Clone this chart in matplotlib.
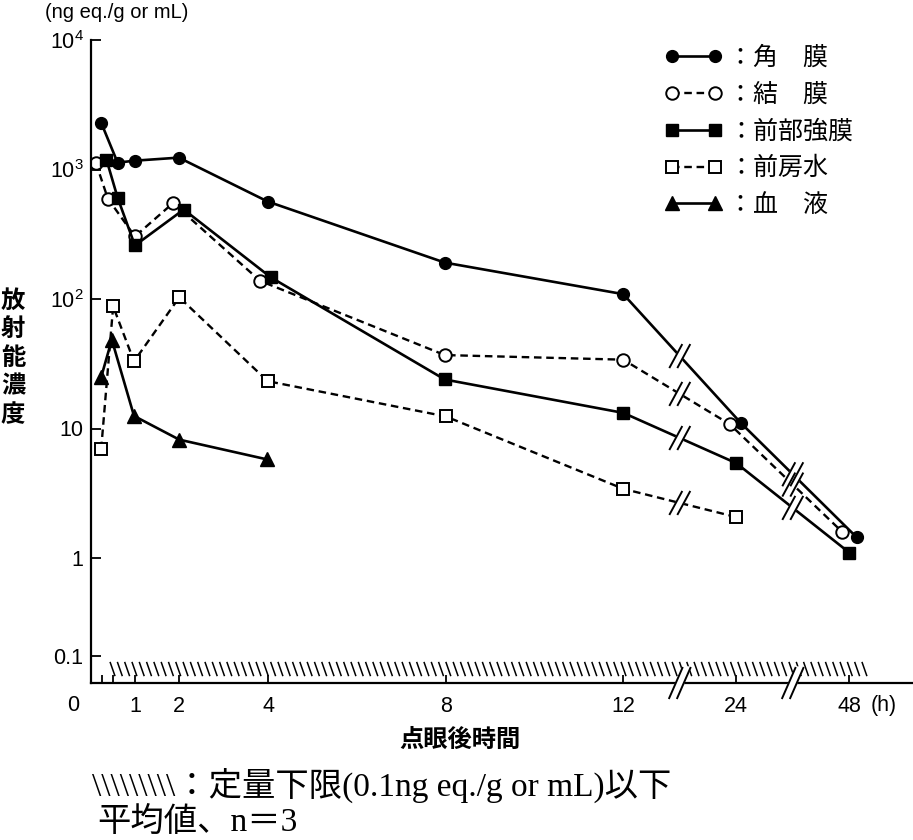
import numpy as np
import matplotlib
matplotlib.use("Agg")
import matplotlib.pyplot as plt
from matplotlib.collections import LineCollection

plt.rcParams["font.family"] = ["Liberation Sans", "Noto Sans CJK JP"]
plt.rcParams["mathtext.fontset"] = "custom"
plt.rcParams["mathtext.rm"] = "Liberation Sans"

# values: time (h), concentration (ng eq./g or mL)
t_cornea = [0.24, 0.61, 1.0, 1.99, 3.99, 7.98, 12.0, 25.0, 49.6]
c_cornea = [2300, 1130, 1170, 1235, 566, 191, 109, 11.0, 1.44]
t_conj = [0.12, 0.39, 1.0, 1.86, 3.82, 7.98, 12.0, 23.3, 46.5]
c_conj = [1130, 597, 304, 551, 138, 36.9, 34.0, 10.8, 1.59]
t_sclera = [0.36, 0.61, 1.0, 2.1, 4.06, 7.98, 12.0, 24.0, 48.0]
c_sclera = [1192, 607, 259, 491, 147, 23.9, 13.2, 5.4, 1.10]
t_aqueous = [0.24, 0.51, 0.98, 2.0, 3.99, 8.0, 12.0, 24.0]
c_aqueous = [6.92, 87.7, 33.0, 103, 23.2, 12.4, 3.42, 2.07]
t_blood = [0.24, 0.48, 0.98, 2.0, 3.98]
c_blood = [24.9, 48.5, 12.5, 8.2, 5.77]

labels = ["：角　膜", "：結　膜", "：前部強膜", "：前房水", "：血　液"]
xticks = [0.25, 0.5, 1, 2, 4, 8, 12, 24, 48]
xticklabels = ["", "", "1", "2", "4", "8", "12", "24", "48"]
yticks = [1e4, 1e3, 100, 10, 1, 0.1]
yticklabels = [r"$\mathregular{10^{4}}$", r"$\mathregular{10^{3}}$",
               r"$\mathregular{10^{2}}$", "10", "1", "0.1"]
breaks = [18, 36]          # axis breaks between 12-24 and 24-48
loq_t = [0.44, 53.0]       # extent of the "below LOQ" hatch
loq_c = [0.063, 0.088]

# broken time axis: 0-12 linear, then 12->24 and 24->48 squeezed
A = 113 / 44.4


def x_fwd(t):
    t = np.asarray(t, float)
    return np.where(t <= 12, t,
                    np.where(t <= 24, 12 + (t - 12) * A / 12,
                             12 + A + (t - 24) * A / 24))


def x_inv(p):
    p = np.asarray(p, float)
    return np.where(p <= 12, p,
                    np.where(p <= 12 + A, 12 + (p - 12) * 12 / A,
                             24 + (p - 12 - A) * 24 / A))


# log axis, compressed below 1
K = 0.76


def y_fwd(v):
    lv = np.log10(np.maximum(np.asarray(v, float), 1e-12))
    return np.where(lv >= 0, lv, K * lv)


def y_inv(p):
    p = np.asarray(p, float)
    return np.where(p >= 0, 10.0 ** p, 10.0 ** (p / K))


fig = plt.figure(figsize=(9.13, 8.4), dpi=100)
ax = fig.add_axes([90.5 / 913, 1 - 683 / 840, 1 - 90.5 / 913, 643 / 840])
ax.set_xscale("function", functions=(x_fwd, x_inv))
ax.set_yscale("function", functions=(y_fwd, y_inv))
ax.set_xlim(0, float(x_inv((913 - 90.5) / 44.4)))
ax.set_ylim(float(y_inv(4 - 643 / 129.5)), 1e4)

solid = dict(color="k", lw=1.9)
dash = dict(color="k", lw=1.7, dashes=(3.2, 2.0))
l1, = ax.plot(t_cornea, c_cornea, marker="o", ms=8.5, mfc="k", mec="k", **solid)
l2, = ax.plot(t_conj, c_conj, marker="o", ms=9, mfc="white", mec="k", mew=1.4, **dash)
l3, = ax.plot(t_sclera, c_sclera, marker="s", ms=8, mfc="k", mec="k", **solid)
l4, = ax.plot(t_aqueous, c_aqueous, marker="s", ms=8, mfc="white", mec="k", mew=1.4, **dash)
l5, = ax.plot(t_blood, c_blood, marker="^", ms=9.5, mfc="k", mec="k", **solid)

for s in ["top", "right"]:
    ax.spines[s].set_visible(False)
for s in ["left", "bottom"]:
    ax.spines[s].set_linewidth(1.6)

ax.set_xticks(xticks)
ax.set_xticklabels(xticklabels)
ax.set_yticks(yticks)
ax.set_yticklabels(yticklabels)
ax.minorticks_off()
ax.tick_params(axis="x", direction="in", length=5.5, width=1.3, pad=9, labelsize=15.5)
ax.tick_params(axis="y", direction="in", length=7, width=1.3, pad=5, labelsize=15.5)

ax.annotate("0", xy=(0, 0), xycoords=("data", "axes fraction"), xytext=(-12.6, -16.5),
            textcoords="offset points", ha="center", va="center", fontsize=15.5)
ax.annotate("(h)", xy=(48, 0), xycoords=("data", "axes fraction"), xytext=(25, -16.5),
            textcoords="offset points", ha="center", va="center", fontsize=15.5)

inv = ax.transData.inverted()

# hatch for values below the quantitation limit
(hx0, hy0) = ax.transData.transform((loq_t[0], loq_c[0]))
(hx1, hy1) = ax.transData.transform((loq_t[1], loq_c[1]))
segs = [inv.transform([(x, hy1), (x + 5, hy0)]) for x in np.arange(hx0, hx1 - 4, 7.3)]
ax.add_collection(LineCollection(segs, colors="k", linewidths=1.1, zorder=3))


def break_mark(xd, yd, h, w, gap, lw=1.4, clip=True):
    dx, dy = w / 2, h / 2
    white = [(xd - gap / 2 - dx, yd - dy), (xd - gap / 2 + dx, yd + dy),
             (xd + gap / 2 + dx, yd + dy), (xd + gap / 2 - dx, yd - dy)]
    pts = inv.transform(white)
    ax.fill(pts[:, 0], pts[:, 1], color="white", zorder=5, clip_on=clip)
    for off in (-gap / 2, gap / 2):
        seg = inv.transform([(xd + off - dx, yd - dy), (xd + off + dx, yd + dy)])
        ax.plot(seg[:, 0], seg[:, 1], color="k", lw=lw, zorder=6, clip_on=clip,
                solid_capstyle="butt")


for tb in breaks:
    xb = ax.transData.transform((tb, 1))[0]
    yb = ax.transAxes.transform((0, 0))[1]
    break_mark(xb, yb, 32, 14, 8, clip=False)
    for tt, cc in [(t_cornea, c_cornea), (t_conj, c_conj),
                   (t_sclera, c_sclera), (t_aqueous, c_aqueous)]:
        for i in range(len(tt) - 1):
            if tt[i] < tb < tt[i + 1]:
                p1 = ax.transData.transform((tt[i], cc[i]))
                p2 = ax.transData.transform((tt[i + 1], cc[i + 1]))
                yl = p1[1] + (xb - p1[0]) / (p2[0] - p1[0]) * (p2[1] - p1[1])
                break_mark(xb, yl, 24, 13, 8)

leg = ax.legend([l1, l2, l3, l4, l5], labels, loc="upper left",
                bbox_to_anchor=(664.5 / 913, 1 - 45 / 840), bbox_transform=fig.transFigure,
                numpoints=2, frameon=False, handlelength=2.3, handletextpad=0.25,
                labelspacing=0.43, borderpad=0, borderaxespad=0,
                prop={"family": ["Noto Sans CJK JP"], "size": 18})

fig.text(45 / 913, 1 - 12 / 840, "(ng eq./g or mL)", ha="left", va="center", fontsize=14.5)
fig.text(13 / 913, 1 - 358 / 840, "放\n射\n能\n濃\n度", ha="center", va="center",
         fontsize=17.5, linespacing=1.25, family=["Noto Sans CJK JP"], weight="bold")
fig.text(460 / 913, 1 - 740 / 840, "点眼後時間", ha="center", va="center",
         fontsize=17.5, family=["Noto Sans CJK JP"], weight="bold")
fig.text(92 / 913, 1 - 785 / 840, "\\" * 9 + "：定量下限(0.1ng eq./g or mL)以下",
         ha="left", va="center", fontsize=24, family=["Liberation Serif", "Noto Sans CJK JP"])
fig.text(97 / 913, 1 - 822 / 840, "平均値、n＝3", ha="left", va="center",
         fontsize=24, family=["Liberation Serif", "Noto Sans CJK JP"])

fig.savefig("out.png", dpi=100)
